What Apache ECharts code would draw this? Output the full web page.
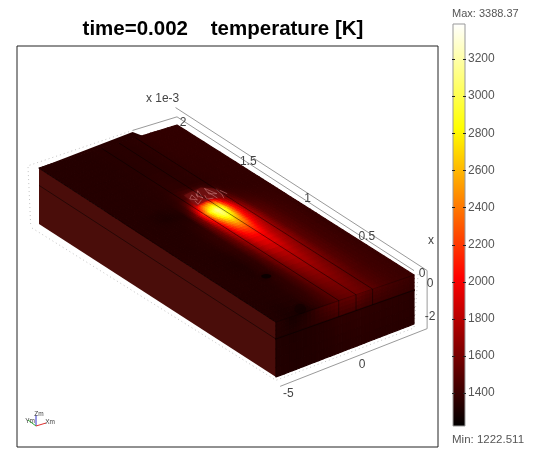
<!DOCTYPE html>
<html><head><meta charset="utf-8">
<style>html,body{margin:0;padding:0;background:#fff}#c{width:538px;height:449px}</style>
<script src="https://cdn.jsdelivr.net/npm/echarts@6/dist/echarts.min.js"></script>
</head><body><div id="c"></div>
<script>
const TITLE = 'time=0.002    temperature [K]';
const T_MIN = 1222.511, T_MAX = 3388.37;
const barTicks = [1400,1600,1800,2000,2200,2400,2600,2800,3000,3200];
const xTicks = ['0','0.5','1','1.5','2'];
const yTicks = ['-5','0'];
const zTicks = ['0','-2'];
// fractions along the block length (0 = x=0 end, 1 = far end) and width
const lengthFrac = [0,.10,.20,.30,.40,.45,.50,.54,.57,.60,.63,.66,.72,.85,1];
const widthFrac  = [0,.14,.24,.30,.36,.40,.45,.50,.55,.60,.66,.76,.88,1];
// temperature on the top face: one row per lengthFrac, one column per widthFrac
const topField = [
[1400,1420,1460,1510,1540,1560,1550,1530,1500,1450,1400,1310,1300,1330],
[1395,1420,1470,1530,1590,1620,1610,1580,1520,1440,1380,1340,1330,1330],
[1390,1425,1490,1580,1650,1700,1690,1640,1560,1450,1370,1330,1335,1335],
[1385,1425,1500,1630,1720,1800,1800,1740,1620,1480,1370,1320,1335,1340],
[1385,1425,1510,1680,1820,1970,2000,1930,1720,1530,1390,1340,1335,1340],
[1385,1425,1510,1700,1900,2150,2250,2120,1820,1560,1390,1345,1335,1340],
[1385,1420,1500,1720,2050,2450,2650,2400,1950,1600,1380,1340,1335,1340],
[1385,1410,1480,1700,2150,2700,3050,2750,2150,1620,1360,1335,1335,1340],
[1385,1400,1450,1650,2150,2800,3200,2900,2250,1600,1340,1330,1335,1340],
[1380,1390,1420,1560,1950,2500,2750,2500,1950,1480,1330,1310,1335,1340],
[1375,1380,1400,1470,1620,1820,1920,1820,1580,1400,1340,1320,1335,1340],
[1375,1375,1380,1400,1430,1460,1500,1480,1420,1370,1345,1340,1340,1340],
[1375,1375,1370,1365,1360,1360,1365,1370,1365,1350,1345,1340,1340,1340],
[1375,1375,1375,1365,1355,1350,1350,1350,1345,1345,1340,1340,1340,1340],
[1375,1375,1375,1365,1355,1350,1350,1350,1345,1345,1340,1340,1340,1340]];
// temperature on the end face (x=0)
const endWidth = [0,.16,.33,.44,.55,.66,.78,.88,1];
const endDepth = [0,.3,.32,1];
const endField = [
[1400,1430,1480,1540,1510,1440,1320,1290,1340],
[1380,1395,1410,1430,1420,1380,1340,1320,1330],
[1350,1355,1360,1365,1360,1340,1325,1320,1325],
[1345,1345,1345,1345,1340,1330,1325,1325,1330]];
const seams = [.30,.42,.545];      // lengthwise seams, width fraction
const layerDepth = .31;            // horizontal seam, depth fraction
const coldSpots = [[.21,.71,5,2.2,.9],[.02,.79,6,5,.35]];
// mesh sparkle behind the hot spot [length,width] polylines
const sparkle = [
[[.655,.5],[.67,.46],[.64,.47],[.655,.5]],[[.64,.49],[.62,.5],[.635,.45]],
[[.68,.4],[.66,.44],[.64,.43],[.68,.4]],[[.65,.4],[.63,.42],[.625,.38]],
[[.68,.35],[.65,.37],[.64,.33],[.68,.35]],[[.66,.3],[.63,.31],[.61,.33]],
[[.67,.43],[.65,.45]],[[.66,.36],[.62,.36]],[[.65,.29],[.625,.28]]];

// ---- projection of the block: corners of the top and of the bottom face
const cT = {c:[414,275],b:[177,125],d:[276,322],a:[39,168]};
const cB = {c:[414,324],b:[177,176],d:[276,377],a:[39,224]};
function bil(q,s,t){return [0,1].map(i=>(1-s)*(1-t)*q.c[i]+s*(1-t)*q.b[i]+(1-s)*t*q.d[i]+s*t*q.a[i]);}
function P(s,t,k){k=k||0;const a=bil(cT,s,t),b=bil(cB,s,t);return [a[0]+k*(b[0]-a[0]),a[1]+k*(b[1]-a[1])];}

function hot(T){
  const f=Math.max(0,Math.min(1,(T-T_MIN)/(T_MAX-T_MIN)));
  const r=Math.min(1,f/.37),g=Math.max(0,Math.min(1,(f-.37)/.37)),b=Math.max(0,(f-.74)/.26);
  return 'rgb('+Math.round(r*255)+','+Math.round(g*255)+','+Math.round(b*255)+')';
}
const SUB=4;
function shadedCell(api,pt,v00,v10,v01,v11){
  const kids=[];
  for(let i=0;i<SUB;i++)for(let j=0;j<SUB;j++){
    const a=i/SUB,b=(i+1)/SUB,c=j/SUB,d=(j+1)/SUB,ma=(a+b)/2,mc=(c+d)/2;
    const T=(1-ma)*(1-mc)*v00+ma*(1-mc)*v10+(1-ma)*mc*v01+ma*mc*v11;
    const col=hot(T);
    kids.push({type:'polygon',shape:{points:[pt(a,c),pt(b,c),pt(b,d),pt(a,d)]},style:{fill:col,stroke:col,lineWidth:1.2,lineJoin:'round'}});
  }
  return {type:'group',children:kids};
}
const topCells=[];
for(let i=0;i<lengthFrac.length-1;i++)for(let j=0;j<widthFrac.length-1;j++)topCells.push([i,j]);
const endCells=[];
for(let i=0;i<endDepth.length-1;i++)for(let j=0;j<endWidth.length-1;j++)endCells.push([i,j]);

function line(api,pts,color,w,dash){
  return {type:'polyline',shape:{points:pts.map(p=>api.coord(p))},style:{fill:null,stroke:color,lineWidth:w,lineDash:dash||null}};
}
const GREY='#9a9a9a', DOT='#c4c4c4', TXT='#444';
function label(api,p,dx,dy,s,fs,col){
  const q=api.coord(p);
  return {type:'text',x:q[0]+dx,y:q[1]+dy,style:{text:s,fill:col||TXT,font:(fs||12)+'px "Liberation Sans"',align:'center',verticalAlign:'middle'}};
}
const xTickFrac = v=>parseFloat(v)/2;
const yTickFrac = v=>.376-.107*parseFloat(v);
const zTickFrac = v=>-.34*parseFloat(v);

const option={
 animation:false,
 title:{text:TITLE,left:218,top:14,textAlign:'center',textStyle:{fontFamily:'Liberation Sans',fontSize:20.5,fontWeight:'bold',color:'#000'}},
 grid:[{left:17,top:46,width:421,height:401,show:true,borderColor:'#222',borderWidth:1,backgroundColor:'#fff'},
       {left:453,top:24,width:12,height:402}],
 xAxis:[{gridIndex:0,type:'value',min:17,max:438,show:false},
        {gridIndex:1,type:'value',min:0,max:1,show:false}],
 yAxis:[{gridIndex:0,type:'value',min:46,max:447,inverse:true,show:false},
        {gridIndex:1,type:'value',min:T_MIN,max:T_MAX,position:'right',splitLine:{show:false},
         axisLine:{show:false},axisTick:{show:false},
         axisLabel:{show:true,customValues:barTicks,margin:3,color:'#555',fontFamily:'Liberation Sans',fontSize:12,formatter:v=>String(v)}}],
 graphic:[
  {type:'text',left:452,top:8,style:{text:'Max: 3388.37',fill:'#555',font:'11px "Liberation Sans"'}},
  {type:'text',left:452,top:434,style:{text:'Min: 1222.511',fill:'#555',font:'11.5px "Liberation Sans"'}}
 ],
 series:[
 // colour bar
 {type:'custom',xAxisIndex:1,yAxisIndex:1,z:2,silent:true,data:[[0]],clip:false,
  renderItem:(p,api)=>{
    const a=api.coord([0,T_MAX]),b=api.coord([1,T_MIN]);
    const kids=[{type:'rect',shape:{x:a[0],y:a[1],width:b[0]-a[0],height:b[1]-a[1]},
      style:{stroke:'#999',lineWidth:1,fill:new echarts.graphic.LinearGradient(0,0,0,1,[
        {offset:0,color:'#fff'},{offset:.26,color:'#ff0'},{offset:.63,color:'#f00'},{offset:1,color:'#000'}])}}];
    barTicks.forEach(v=>{
      const y=Math.round(api.coord([0,v])[1])+.5;
      kids.push({type:'line',shape:{x1:a[0]-1,y1:y,x2:a[0]+2,y2:y},style:{stroke:'#222',lineWidth:1}});
      kids.push({type:'line',shape:{x1:b[0]-2,y1:y,x2:b[0]+1,y2:y},style:{stroke:'#222',lineWidth:1}});
    });
    return {type:'group',children:kids};
  }},
 // backdrop: axes behind the block
 {type:'custom',xAxisIndex:0,yAxisIndex:0,z:3,silent:true,data:[[0]],clip:false,
  renderItem:(p,api)=>({type:'group',children:[
    line(api,[P(1.08,-.127,0),P(0,-.095,0),P(0,-.095,1.2),P(0,.97,1.2)],GREY,1),
    line(api,[P(0,0,-.09),P(1,0,-.16),P(1,.32,-.16)],GREY,1),
    line(api,[P(1,.32,-.16),P(1,1.08,-.1),P(1,1.06,.98)],DOT,1,[1,3]),
    line(api,[P(1,1.05,1.03),P(0,1,1.06),P(0,0,1.08),P(0,-.03,0)],DOT,1,[1,3])
  ]})},
 // left (long) side
 {type:'custom',xAxisIndex:0,yAxisIndex:0,z:4,silent:true,data:[[0]],clip:false,
  renderItem:(p,api)=>({type:'group',children:[
    {type:'polygon',shape:{points:[P(1,1,0),P(0,1,0),P(0,1,1),P(1,1,1)].map(q=>api.coord(q))},style:{fill:'#4a0d0a'}}
  ]})},
 // end face
 {type:'custom',xAxisIndex:0,yAxisIndex:0,z:4,silent:true,data:endCells,clip:false,
  renderItem:(p,api)=>{
    const i=api.value(0),j=api.value(1);
    const pt=(a,c)=>api.coord(P(0,endWidth[j]+c*(endWidth[j+1]-endWidth[j]),endDepth[i]+a*(endDepth[i+1]-endDepth[i])));
    return shadedCell(api,pt,endField[i][j],endField[i+1][j],endField[i][j+1],endField[i+1][j+1]);
  }},
 // top face
 {type:'custom',xAxisIndex:0,yAxisIndex:0,z:5,silent:true,data:topCells,clip:false,
  renderItem:(p,api)=>{
    const i=api.value(0),j=api.value(1);
    const pt=(a,c)=>api.coord(P(lengthFrac[i]+a*(lengthFrac[i+1]-lengthFrac[i]),widthFrac[j]+c*(widthFrac[j+1]-widthFrac[j]),0));
    return shadedCell(api,pt,topField[i][j],topField[i+1][j],topField[i][j+1],topField[i+1][j+1]);
  }},
 // raised far strip, sparkle, seams, labels
 {type:'custom',xAxisIndex:0,yAxisIndex:0,z:6,silent:true,data:[[0]],clip:false,
  renderItem:(p,api)=>{
    const kids=[];
    kids.push({type:'polygon',shape:{points:[P(1,1,0),P(1.03,.27,0),P(1,.25,0)].map(q=>api.coord(q))},style:{fill:hot(1345)}});
    coldSpots.forEach(s=>{const q=api.coord(P(s[0],s[1],0));
      kids.push({type:'ellipse',shape:{cx:q[0],cy:q[1],rx:s[2],ry:s[3]},style:{fill:'rgba(10,0,0,'+s[4]+')',shadowBlur:5,shadowColor:'rgba(16,0,0,'+s[4]+')'}});});
    kids.push({type:'polygon',shape:{points:[[.615,.52],[.68,.5],[.69,.36],[.66,.29],[.615,.3],[.625,.4]].map(q=>api.coord(P(q[0],q[1],0)))},style:{fill:'rgba(120,20,20,.55)',shadowBlur:3,shadowColor:'#701010'}});
    sparkle.forEach(l=>kids.push(line(api,l.map(q=>P(q[0],q[1],0)),'rgba(235,165,165,.6)',.7)));
    // seams
    const SEAM='rgba(0,0,0,.6)';
    seams.forEach(t=>{kids.push(line(api,[P(0,t,0),P(1,t,0)],SEAM,.8));
      kids.push(line(api,[P(0,t,0),P(0,t,layerDepth)],SEAM,.8));});
    kids.push(line(api,[P(1,1,layerDepth),P(0,1,layerDepth),P(0,0,layerDepth)],SEAM,.8));
    kids.push(line(api,[P(1,1,0),P(0,1,0),P(0,0,0)],'rgba(0,0,0,.35)',.8));
    kids.push(line(api,[P(0,1,0),P(0,1,1)],'rgba(0,0,0,.25)',.8));
    // axis labels
    kids.push(label(api,P(1.08,-.127,0),-13,-9,'x 1e-3'));
    xTicks.forEach(v=>kids.push(label(api,P(xTickFrac(v),0,0),v==='0'?8:(v==='2'?6:12),v==='2'?-2:-1,v)));
    yTicks.forEach(v=>kids.push(label(api,P(0,yTickFrac(v),1.2),0,11,v)));
    zTicks.forEach(v=>kids.push(label(api,P(0,-.095,zTickFrac(v)),3,13,v)));
    kids.push(label(api,P(0,-.095,0),4,-30,'x'));
    // orientation triad
    const o=[36,426];
    kids.push(line(api,[o,[36,415]],'#3333cc',1));
    kids.push(line(api,[o,[46,423]],'#e03030',1));
    kids.push(line(api,[o,[28,420]],'#30b030',1));
    kids.push(label(api,[39,414],0,0,'Zm',6.5));
    kids.push(label(api,[50,422],0,0,'Xm',6.5));
    kids.push(label(api,[30,421],0,0,'Ym',6.5));
    return {type:'group',children:kids};
  }}
 ]
};
const chart=echarts.init(document.getElementById('c'),null,{renderer:'canvas'});
chart.setOption(option);
</script></body></html>
